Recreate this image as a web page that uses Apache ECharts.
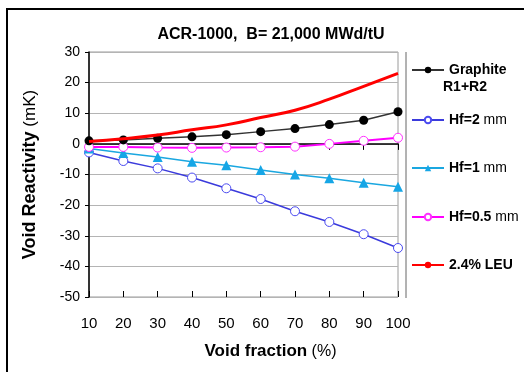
<!DOCTYPE html>
<html>
<head>
<meta charset="utf-8">
<script src="https://cdn.jsdelivr.net/npm/echarts@6/dist/echarts.min.js"></script>
<style>
  html, body { margin: 0; padding: 0; background: #fff; }
  #chart { width: 524px; height: 372px; }
</style>
</head>
<body>
<div id="chart"></div>
<script>
// void fraction (%)
const voidFraction = [10, 20, 30, 40, 50, 60, 70, 80, 90, 100];

// void reactivity (mK)
const graphite = [1, 1.3, 1.8, 2.3, 3, 4, 5, 6.3, 7.7, 10.5];
const hf2mm = [-2.8, -5.6, -8, -11, -14.5, -18, -22, -25.5, -29.5, -34];
const hf1mm = [-1.5, -3, -4.3, -5.8, -7, -8.5, -10, -11.2, -12.7, -14];
const hf05mm = [-1, -1, -1.2, -1.3, -1.2, -1.1, -0.9, 0, 1, 2];
const leu = [0.8, 1.7, 2.9, 4.6, 6.2, 8.6, 11, 14.6, 18.8, 23];

const seriesNames = ['Graphite', 'Hf=2 mm', 'Hf=1 mm', 'Hf=0.5 mm', '2.4% LEU'];

const pairs = (ys) => voidFraction.map((x, i) => [x, ys[i]]);

const font = 'Liberation Sans, Arial, sans-serif';

const chart = echarts.init(document.getElementById('chart'));

// "mm" is set in a lighter weight than the rest of the entry
const legendLabel = (name) => {
  if (name.endsWith(' mm')) {
    return '{b|' + name.slice(0, -3) + '} {n|mm}';
  }
  return '{b|' + name + '}';
};

// one legend block per entry so each sits where the original has it
const legendTops = [58, 108, 156, 205, 253];
const legends = seriesNames.map((name, i) => ({
  data: [name],
  left: 406,
  top: legendTops[i],
  itemWidth: 32,
  itemHeight: 8,
  itemGap: 0,
  selectedMode: false,
  formatter: legendLabel,
  textStyle: {
    fontFamily: font,
    fontSize: 14,
    color: '#000',
    rich: {
      b: { fontFamily: font, fontSize: 14, fontWeight: 'bold', color: '#000' },
      n: { fontFamily: font, fontSize: 14, color: '#000' },
    },
  },
}));

const option = {
  backgroundColor: '#fff',
  animation: false,
  title: {
    text: 'ACR-1000,  B= 21,000 MWd/tU',
    left: 266,
    textAlign: 'center',
    top: 22,
    textStyle: {
      fontFamily: font,
      fontSize: 16,
      fontWeight: 'bold',
      color: '#000',
    },
  },
  legend: legends,
  grid: {
    left: 89,
    top: 52,
    width: 309,
    height: 245,
    show: true,
    borderColor: '#9a9a9a',
    borderWidth: 1,
    containLabel: false,
  },
  xAxis: [{
    type: 'value',
    min: 10,
    max: 100,
    interval: 10,
    name: '{b|Void fraction} {n|(%)}',
    nameLocation: 'middle',
    nameGap: 46,
    nameTextStyle: {
      fontFamily: font,
      fontSize: 16,
      color: '#000',
      padding: [0, 0, 0, 54],
      rich: {
        b: { fontFamily: font, fontSize: 17, fontWeight: 'bold', color: '#000' },
        n: { fontFamily: font, fontSize: 16, color: '#000' },
      },
    },
    axisLine: { show: true, lineStyle: { color: '#000', width: 1.5 } },
    axisTick: { show: true, length: 6, lineStyle: { color: '#000', width: 1 } },
    axisLabel: { fontFamily: font, fontSize: 15, color: '#000', margin: 19 },
    splitLine: { show: false },
  }, {
    // inner half of the crossing ticks
    type: 'value',
    position: 'bottom',
    offset: 0,
    min: 10,
    max: 100,
    interval: 10,
    axisLine: { show: false },
    axisTick: { show: true, inside: true, length: 6, lineStyle: { color: '#000', width: 1 } },
    axisLabel: { show: false },
    splitLine: { show: false },
  }],
  yAxis: {
    type: 'value',
    min: -50,
    max: 30,
    interval: 10,
    name: '{b|Void Reactivity} {n|(mK)}',
    nameLocation: 'middle',
    nameGap: 50,
    nameTextStyle: {
      fontFamily: font,
      fontSize: 17,
      color: '#000',
      rich: {
        b: { fontFamily: font, fontSize: 18, fontWeight: 'bold', color: '#000' },
        n: { fontFamily: font, fontSize: 17, color: '#000' },
      },
    },
    axisLine: { show: true, lineStyle: { color: '#000', width: 1.5 } },
    axisTick: { show: true, length: 4, lineStyle: { color: '#000' } },
    axisLabel: { fontFamily: font, fontSize: 14, color: '#000', margin: 9 },
    splitLine: { show: true, lineStyle: { color: '#b4b4b4', width: 1 } },
  },
  series: [{
    name: seriesNames[0],
    type: 'line',
    data: pairs(graphite),
    symbol: 'circle',
    symbolSize: 9,
    lineStyle: { color: '#333', width: 1.5 },
    itemStyle: { color: '#000' },
    z: 4,
  }, {
    name: seriesNames[1],
    type: 'line',
    data: pairs(hf2mm),
    symbol: 'circle',
    symbolSize: 9,
    lineStyle: { color: '#3b3bdc', width: 1.5 },
    itemStyle: { color: '#fff', borderColor: '#4b4bf0', borderWidth: 1 },
    z: 3,
  }, {
    name: seriesNames[2],
    type: 'line',
    data: pairs(hf1mm),
    symbol: 'triangle',
    symbolSize: 10,
    lineStyle: { color: '#1aa7e0', width: 1.5 },
    itemStyle: { color: '#16a6e6' },
    z: 3,
  }, {
    name: seriesNames[3],
    type: 'line',
    data: pairs(hf05mm),
    symbol: 'circle',
    symbolSize: 9,
    lineStyle: { color: '#ff00ff', width: 2 },
    itemStyle: { color: '#fff', borderColor: '#ff33ff', borderWidth: 1 },
    z: 3,
  }, {
    name: seriesNames[4],
    type: 'line',
    data: pairs(leu),
    smooth: true,
    showSymbol: false,
    symbol: 'none',
    lineStyle: { color: '#ff0000', width: 3 },
    itemStyle: { color: '#ff0000' },
    z: 5,
  }],
  graphic: [{
    // outer frame, top and left edges
    type: 'polyline',
    shape: { points: [[7, 372], [7, 9], [524, 9]] },
    style: { stroke: '#000', lineWidth: 2, fill: null },
  }, {
    // separator between plot and legend
    type: 'line',
    shape: { x1: 406, y1: 52, x2: 406, y2: 298 },
    style: { stroke: '#666', lineWidth: 1 },
  }, {
    type: 'text',
    left: 443,
    top: 80,
    style: {
      text: 'R1+R2',
      font: 'bold 14px ' + font,
      fill: '#000',
    },
  }],
};

chart.setOption(option);
</script>
</body>
</html>
